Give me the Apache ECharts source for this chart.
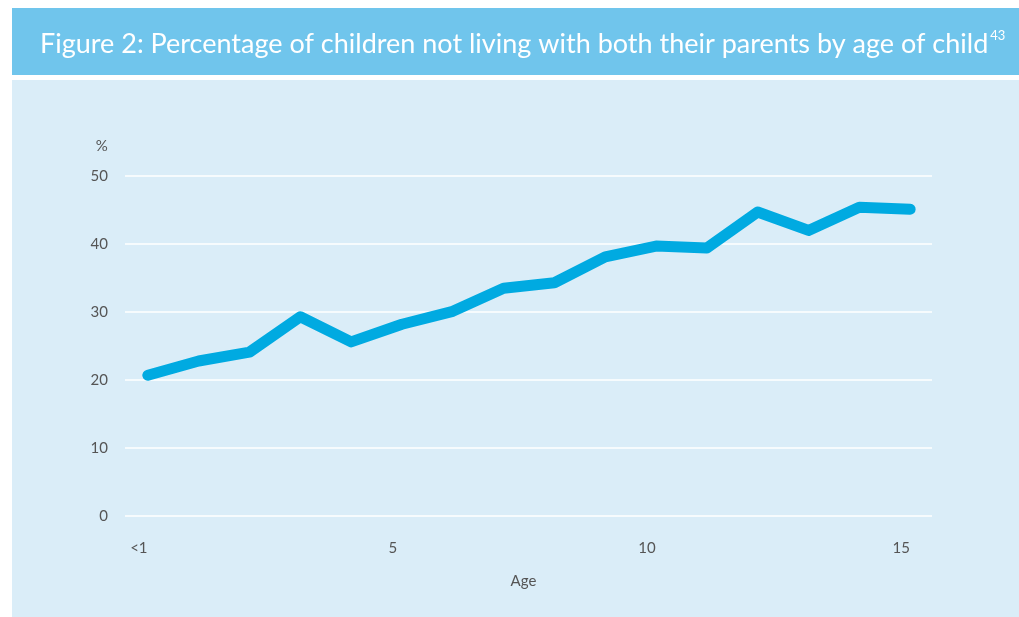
<!DOCTYPE html>
<html><head><meta charset="utf-8">
<script src="https://cdn.jsdelivr.net/npm/echarts@6/dist/echarts.min.js"></script>
<style>html,body{margin:0;padding:0;background:#fff}#c{width:1019px;height:617px}</style>
</head><body><div id="c"></div>
<script>
const ages = [0,1,2,3,4,5,6,7,8,9,10,11,12,13,14,15];
const percentages = [20.7,22.8,24.1,29.3,25.6,28.2,30.1,33.5,34.3,38.1,39.7,39.4,44.7,42.0,45.4,45.1];
const xTickValues = [0,5,10,15];
const xTickLabels = {0:'<1',5:'5',10:'10',15:'15'};
const titleText = 'Figure 2: Percentage of children not living with both their parents by age of child';
const titleSup = '43';

const chart = echarts.init(document.getElementById('c'), null, {renderer:'canvas'});
const font = 'Lato, "Open Sans", sans-serif';
chart.setOption({
  backgroundColor:'#ffffff',
  animation:false,
  graphic:[
    {type:'rect', z:-10, shape:{x:12,y:8,width:1007,height:67}, style:{fill:'#70c5ec'}},
    {type:'rect', z:-10, shape:{x:12,y:80,width:1007,height:537}, style:{fill:'#daedf8'}}
  ],
  title:{
    text:'{t|'+titleText+'}{s|'+titleSup+'}',
    left:35, top:24,
    textStyle:{fontWeight:'normal', rich:{
      t:{color:'#ffffff', fontSize:27, fontWeight:'normal', fontFamily:font, verticalAlign:'bottom'},
      s:{color:'#ffffff', fontSize:13, fontWeight:'normal', fontFamily:font, verticalAlign:'top', padding:[0,0,16,2]}
    }}
  },
  grid:{left:125, right:87, top:176, bottom:101, containLabel:false},
  xAxis:{
    type:'value', min:-0.45, max:15.43,
    name:'Age', nameLocation:'middle', nameGap:58,
    nameTextStyle:{color:'#555', fontSize:15, fontFamily:font, padding:[0,10,0,0]},
    axisLine:{show:false}, axisTick:{show:false}, splitLine:{show:false},
    axisLabel:{customValues:xTickValues, color:'#555', fontSize:15, fontFamily:font, margin:25,
      padding:[0,18,0,0],
      formatter:v=>xTickLabels[Math.round(v)]}
  },
  yAxis:{
    type:'value', min:0, max:50, interval:10,
    name:'%', nameLocation:'end', nameGap:22,
    nameTextStyle:{color:'#555', fontSize:15, fontFamily:font, align:'right', padding:[0,40,0,0]},
    axisLine:{show:false}, axisTick:{show:false},
    axisLabel:{color:'#555', fontSize:15, fontFamily:font, margin:17},
    splitLine:{lineStyle:{color:'#ffffff', width:1.5}}
  },
  series:[{
    type:'line', data:ages.map((a,i)=>[a,percentages[i]]),
    showSymbol:false, symbol:'none',
    lineStyle:{color:'#00aae1', width:11, cap:'round', join:'round'}
  }]
});
</script></body></html>
